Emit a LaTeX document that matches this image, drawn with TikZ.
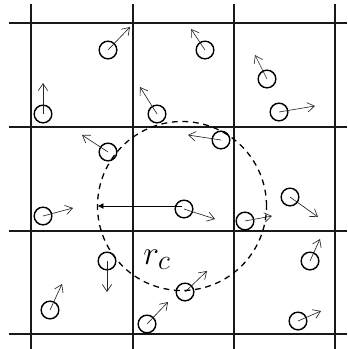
\documentclass[tikz,border=0pt]{standalone}
\usetikzlibrary{arrows.meta}

\begin{document}
\begin{tikzpicture}[x=3cm, y=3cm,
  part/.style={circle, draw, line width=1.2pt, minimum size=0.53cm, inner sep=0pt},
  vel/.style={line width=0.55pt, black!85, -{Straight Barb[length=6pt, width=8pt]}},
  cell/.style={line width=1.6pt, black!90},
  cutoff/.style={line width=1.1pt, dash pattern=on 5pt off 4pt},
  rarrow/.style={line width=0.6pt, -{Latex[length=5pt, width=5pt]}}
]
  \useasboundingbox (0,0) rectangle (3.47,-3.49);

  % Cell grid
  \draw[cell] (0.31,-0.04) -- (0.31,-3.49);
  \draw[cell] (1.33,-0.04) -- (1.33,-3.49);
  \draw[cell] (2.34,-0.04) -- (2.34,-3.49);
  \draw[cell] (3.35,-0.04) -- (3.35,-3.49);
  \draw[cell] (0.09,-0.23) -- (3.47,-0.23);
  \draw[cell] (0.09,-1.27) -- (3.47,-1.27);
  \draw[cell] (0.09,-2.31) -- (3.47,-2.31);
  \draw[cell] (0.09,-3.34) -- (3.47,-3.34);

  % Particles
  \node[part] (p1) at (1.08,-0.50) {};
  \node[part] (p2) at (0.43,-1.14) {};
  \node[part] (p3) at (1.57,-1.14) {};
  \node[part] (p4) at (1.08,-1.52) {};
  \node[part] (p5) at (2.05,-0.50) {};
  \node[part] (p6) at (2.67,-0.79) {};
  \node[part] (p7) at (2.79,-1.12) {};
  \node[part] (p8) at (2.21,-1.40) {};
  \node[part] (p9) at (0.43,-2.16) {};
  \node[part] (p10) at (1.07,-2.61) {};
  \node[part] (p11) at (0.50,-3.10) {};
  \node[part] (p12) at (1.47,-3.24) {};
  \node[part] (p13) at (1.84,-2.09) {};
  \node[part] (p14) at (2.45,-2.21) {};
  \node[part] (p15) at (2.90,-1.97) {};
  \node[part] (p16) at (3.10,-2.61) {};
  \node[part] (p17) at (1.85,-2.92) {};
  \node[part] (p18) at (2.98,-3.21) {};

  % Velocity tips
  \coordinate (v1) at (1.30,-0.27);
  \coordinate (v2) at (0.43,-0.83);
  \coordinate (v3) at (1.40,-0.87);
  \coordinate (v4) at (0.82,-1.35);
  \coordinate (v5) at (1.91,-0.29);
  \coordinate (v6) at (2.55,-0.55);
  \coordinate (v7) at (3.15,-1.06);
  \coordinate (v8) at (1.88,-1.35);
  \coordinate (v9) at (0.73,-2.08);
  \coordinate (v10) at (1.07,-2.92);
  \coordinate (v11) at (0.62,-2.84);
  \coordinate (v12) at (1.68,-3.02);
  \coordinate (v13) at (2.15,-2.19);
  \coordinate (v14) at (2.72,-2.16);
  \coordinate (v15) at (3.18,-2.17);
  \coordinate (v16) at (3.20,-2.39);
  \coordinate (v17) at (2.07,-2.71);
  \coordinate (v18) at (3.21,-3.11);

  \draw[vel] (p1.center) -- (v1);
  \draw[vel] (p2.center) -- (v2);
  \draw[vel] (p3.center) -- (v3);
  \draw[vel] (p4.center) -- (v4);
  \draw[vel] (p5.center) -- (v5);
  \draw[vel] (p6.center) -- (v6);
  \draw[vel] (p7.center) -- (v7);
  \draw[vel] (p8.center) -- (v8);
  \draw[vel] (p9.center) -- (v9);
  \draw[vel] (p10.center) -- (v10);
  \draw[vel] (p11.center) -- (v11);
  \draw[vel] (p12.center) -- (v12);
  \draw[vel] (p13.center) -- (v13);
  \draw[vel] (p14.center) -- (v14);
  \draw[vel] (p15.center) -- (v15);
  \draw[vel] (p16.center) -- (v16);
  \draw[vel] (p17.center) -- (v17);
  \draw[vel] (p18.center) -- (v18);

  % Cut-off sphere around p13
  \coordinate (cut) at (1.82,-2.06);
  \coordinate (cutl) at (0.975,-2.06);
  \draw[cutoff] (cut) circle (0.845);
  \draw[rarrow] (cut) -- (cutl);
  \node[scale=1.15] (rc) at (1.57,-2.60) {\Huge $r_c$};
\end{tikzpicture}
\end{document}
